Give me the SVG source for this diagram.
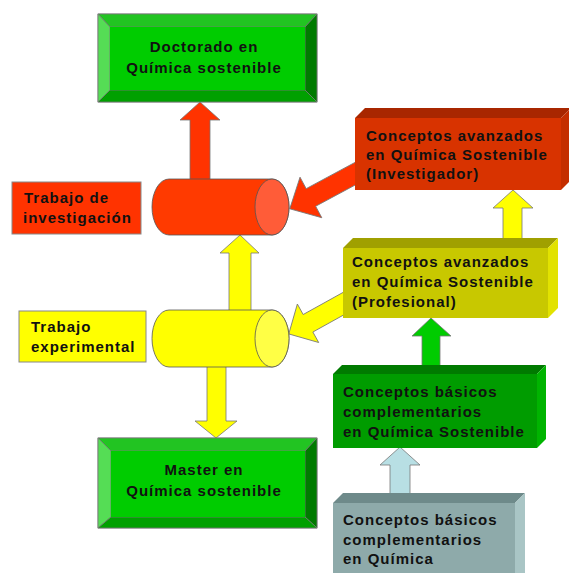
<svg xmlns="http://www.w3.org/2000/svg" width="569" height="573" viewBox="0 0 569 573">
<defs>
<style>
text{font-family:"Liberation Sans",Arial,sans-serif;font-weight:bold;font-size:15px;letter-spacing:1px;fill:#111;stroke:none}
.c{text-anchor:middle}
.ln{stroke:#777;stroke-width:0.8}
</style>
</defs>
<rect width="569" height="573" fill="#fff"/>
<g id="connectors" class="ln">
<polygon fill="#ff3300" points="190,180 190,120 180,120 200,102 220,120 210,120 210,180"/>
<polygon fill="#ffff00" points="229,312 229,253 220,253 240,235 259,253 251,253 251,312"/>
<polygon fill="#ffff00" points="207,362 207,421 195,421 216,438 237,421 226,421 226,362"/>
<polygon fill="#ff3300" transform="translate(362,170) rotate(151.75)" points="0,-10 58,-10 58,-23 82,0 58,23 58,10 0,10"/>
<polygon fill="#ffff00" transform="translate(350,300) rotate(151)" points="0,-10 48,-10 48,-22 70,0 48,22 48,10 0,10"/>
<polygon fill="#ffff00" points="503,242 503,208 493,208 513,190 533,208 522,208 522,242"/>
<polygon fill="#00cc00" points="422,380 422,336 412,336 431,318 451,336 440,336 440,380"/>
<polygon fill="#b8dfe4" points="390,497 390,465 380,465 400,447 420,465 410,465 410,497"/>
</g>
<g id="doctorado" class="ln">
<rect x="98" y="14" width="219" height="88" fill="#00cc00"/>
<polygon points="98,14 317,14 305,27 110,27" fill="#22c422"/>
<polygon points="98,14 110,27 110,90 98,102" fill="#55dd55"/>
<polygon points="317,14 317,102 305,90 305,27" fill="#007a00"/>
<polygon points="98,102 110,90 305,90 317,102" fill="#00a000"/>
<rect x="110" y="27" width="195" height="63" fill="#00cc00" stroke="none"/>
<text class="c" x="204" y="52">Doctorado en</text>
<text class="c" x="204" y="73">Química sostenible</text>
</g>
<g id="master" class="ln">
<rect x="98" y="438" width="219" height="90" fill="#00cc00"/>
<polygon points="98,438 317,438 305,451 111,451" fill="#22c422"/>
<polygon points="98,438 111,451 111,517 98,528" fill="#55dd55"/>
<polygon points="317,438 317,528 305,517 305,451" fill="#007a00"/>
<polygon points="98,528 111,517 305,517 317,528" fill="#00a000"/>
<rect x="111" y="451" width="194" height="66" fill="#00cc00" stroke="none"/>
<text class="c" x="204" y="475">Master en</text>
<text class="c" x="204" y="496">Química sostenible</text>
</g>
<g id="trabajo-investigacion">
<rect x="12" y="182" width="129" height="52" fill="#ff3300" stroke="#888" stroke-width="1"/>
<text x="24" y="203">Trabajo de</text>
<text x="23" y="223">investigación</text>
</g>
<g id="trabajo-experimental">
<rect x="19" y="311" width="127" height="51" fill="#ffff00" stroke="#888" stroke-width="1"/>
<text x="31" y="332">Trabajo</text>
<text x="31" y="352">experimental</text>
</g>
<g id="cilindro-rojo" stroke="#555" stroke-width="0.8">
<path d="M169,179 L272,179 A17,28 0 0 1 272,235 L169,235 A17,28 0 0 1 169,179 Z" fill="#ff3a00"/>
<ellipse cx="272" cy="207" rx="17" ry="28" fill="#ff5c38"/>
</g>
<g id="cilindro-amarillo" stroke="#555" stroke-width="0.8">
<path d="M169,310 L272,310 A17,28.5 0 0 1 272,367 L169,367 A17,28.5 0 0 1 169,310 Z" fill="#ffff00"/>
<ellipse cx="272" cy="338.5" rx="17" ry="28.5" fill="#ffff45"/>
</g>
<g id="avanzados-investigador">
<polygon points="355,118 365,108 571,108 561,118" fill="#a82600"/>
<polygon points="561,118 571,108 571,180 561,190" fill="#c42e00"/>
<rect x="355" y="118" width="206" height="72" fill="#d83300"/>
<text x="366" y="141">Conceptos avanzados</text>
<text x="366" y="160">en Química Sostenible</text>
<text x="366" y="179">(Investigador)</text>
</g>
<g id="avanzados-profesional">
<polygon points="343,248 353,238 558,238 548,248" fill="#a0a000"/>
<polygon points="548,248 558,238 558,308 548,318" fill="#e2e200"/>
<rect x="343" y="248" width="205" height="70" fill="#c8c800"/>
<text x="352" y="267">Conceptos avanzados</text>
<text x="352" y="287">en Química Sostenible</text>
<text x="352" y="307">(Profesional)</text>
</g>
<g id="basicos-sostenible">
<polygon points="333,374 342,365 546,365 537,374" fill="#007a00"/>
<polygon points="537,374 546,365 546,439 537,448" fill="#00b400"/>
<rect x="333" y="374" width="204" height="74" fill="#009c00"/>
<text x="343" y="397">Conceptos básicos</text>
<text x="343" y="417">complementarios</text>
<text x="343" y="437">en Química Sostenible</text>
</g>
<g id="basicos-quimica">
<polygon points="333,503 343,493 525,493 515,503" fill="#6e8a8a"/>
<polygon points="515,503 525,493 525,573 515,573" fill="#a9c5c5"/>
<rect x="333" y="503" width="182" height="72" fill="#8eaaaa"/>
<text x="343" y="525">Conceptos básicos</text>
<text x="343" y="545">complementarios</text>
<text x="343" y="564">en Química</text>
</g>
</svg>
